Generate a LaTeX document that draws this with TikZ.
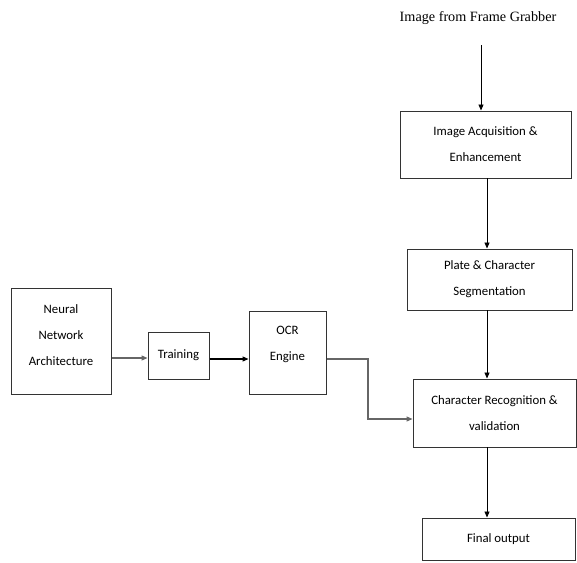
\documentclass[tikz,border=0pt]{standalone}
\usepackage{fontspec}
\setmainfont{Carlito}
\newfontfamily\tnr{Liberation Serif}
\usetikzlibrary{arrows.meta}
\tikzset{
  box/.style={draw=black!80, line width=1pt, inner sep=0pt},
  txt/.style={align=center, font=\fontsize{12.8}{26}\selectfont, text=black},
  arr/.style={line width=0.9pt, -{Triangle[length=6pt,width=5pt]}},
  garr/.style={arr, line width=1.2pt, draw=black!60},
}
\begin{document}
\begin{tikzpicture}[x=1pt,y=1pt]
\useasboundingbox (0,0) rectangle (577,-562);
\node[font=\tnr\fontsize{14.2}{16}\selectfont] (title) at (478,-18) {Image from Frame Grabber};
\node[box, minimum width=171, minimum height=67, txt] (img) at (485.5,-144.5) {Image Acquisition \&\\Enhancement};
\node[box, minimum width=165, minimum height=61, txt] (seg) at (489.5,-279.5) {Plate \& Character\\Segmentation};
\node[box, minimum width=100, minimum height=106,
  label={[txt, yshift=6]center:Neural\\Network\\Architecture}] (nn) at (61,-341) {};
\node[box, minimum width=61, minimum height=47, txt] (tr) at (178.5,-355.5) {Training};
\node[box, minimum width=77, minimum height=83,
  label={[txt, yshift=8.5]center:OCR\\Engine}] (ocr) at (287.5,-352.5) {};
\node[box, minimum width=163, minimum height=68, txt] (chr) at (494.5,-413) {Character Recognition \&\\validation};
\node[box, minimum width=153, minimum height=42, txt] (fin) at (498.5,-539) {Final output};
\coordinate (tarr) at (481,-45);
\coordinate (ocrturn) at (368,-359);
\draw[arr] (tarr) -- (tarr |- img.north);
\draw[arr] (487,-178) coordinate (a1) -- (a1 |- seg.north);
\draw[arr] (487,-310) coordinate (a2) -- (a2 |- chr.north);
\draw[arr] (487,-447) coordinate (a3) -- (a3 |- fin.north);
\draw[garr] (nn.east |- 0,-358) coordinate (b1) -- (b1 -| tr.west);
\draw[arr, line width=1.2pt] (tr.east |- 0,-359) coordinate (b2) -- (b2 -| ocr.west);
\draw[garr] (ocr.east |- ocrturn) -- (ocrturn) -- (368,-419) coordinate (b3) -- (b3 -| chr.west);
\end{tikzpicture}
\end{document}
